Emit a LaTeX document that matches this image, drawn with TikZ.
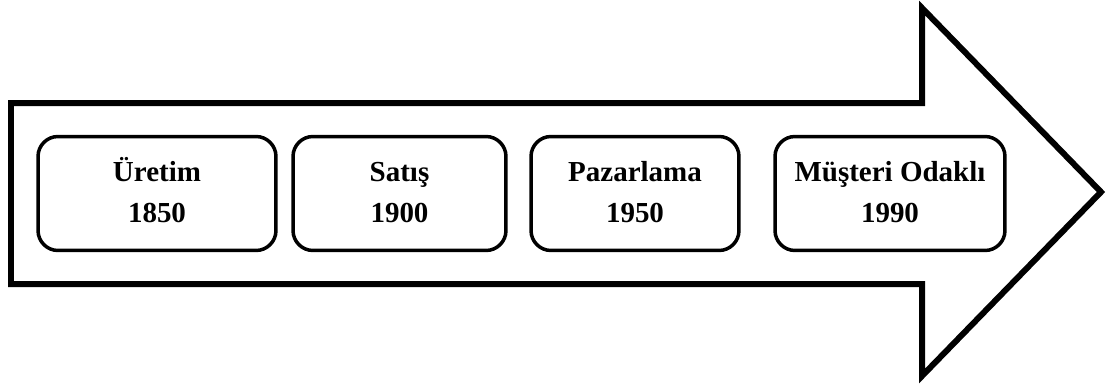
\documentclass[tikz,border=0pt]{standalone}
\usepackage{fontspec}
\setmainfont{Liberation Serif}
\usepackage{tikz}
\usepackage{xcolor}

\begin{document}
\begin{tikzpicture}[x=0.02cm,y=0.02cm]
	\tikzset{
	arrowline/.style 	= {line width=0.12cm, line join=miter, black},
	era/.style 		= {draw, rectangle, rounded corners=0.4cm,
				   line width=0.07cm, minimum height=2.28cm,
				   align=center, font=\bfseries\fontsize{16.5}{23.5}\selectfont}}
	
	\useasboundingbox (0,0) rectangle (1107,383);
	
	\draw[arrowline] (11,280) -- (922,280) -- (922,375) -- (1101,191)
		-- (922,7) -- (922,99) -- (11,99) -- cycle;
	
	
	\node[era, minimum width=4.76cm] (uretim) at (157,189.5) {\strut Üretim\\\strut 1850};
	\node[era, minimum width=4.26cm] (satis) at (399.5,189.5) {\strut Satış\\\strut 1900};
	\node[era, minimum width=4.16cm] (pazarlama) at (635,189.5) {\strut Pazarlama\\\strut 1950};
	\node[era, minimum width=4.6cm] (musteri) at (890,189.5) {\strut Müşteri Odaklı\\\strut 1990};
	
	
	\end{tikzpicture}
\end{document}
